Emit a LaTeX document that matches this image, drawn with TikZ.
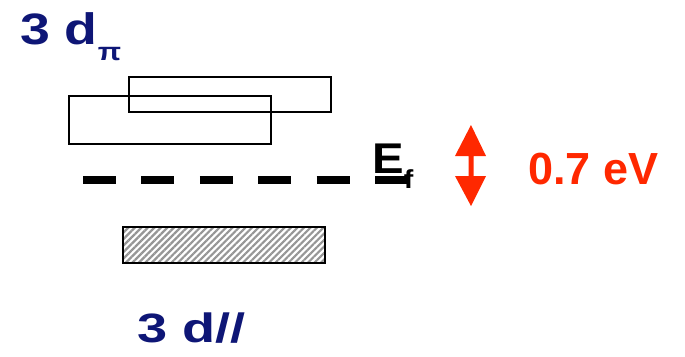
\documentclass[tikz,border=0pt]{standalone}
\usepackage{fontspec}
\setmainfont{Liberation Sans}
\usetikzlibrary{patterns.meta}
\definecolor{bandblue}{RGB}{14,22,118}
\definecolor{gapred}{RGB}{255,40,0}
\definecolor{hatchgray}{RGB}{150,150,150}
\tikzset{
  levelbox/.style={draw=black, line width=2pt},
  filledband/.style={draw=black, line width=2.4pt,
    pattern={Lines[angle=45,distance=4.6pt,line width=2.2pt]}, pattern color=hatchgray},
  fermiline/.style={line width=8pt, dash pattern=on 33pt off 25.4pt},
  bandlabel/.style={inner sep=0pt, anchor=base west, text=bandblue, font=\bfseries},
  gaplabel/.style={inner sep=0pt, anchor=base west, text=gapred, font=\bfseries},
  fermilabel/.style={inner sep=0pt, anchor=base west, text=black, font=\bfseries}
}
\begin{document}
\begin{tikzpicture}[x=1pt,y=-1pt]
\useasboundingbox (0,0) rectangle (685,356);

% upper band: two overlapping empty boxes
\draw[levelbox] (69,96) rectangle (271,144);
\draw[levelbox] (129,77) rectangle (331,112);

% lower, occupied band
\draw[filledband] (123,227) rectangle (325,263);

% Fermi level
\coordinate (efL) at (83,180);
\coordinate (efR) at (408,180);
\draw[fermiline] (efL) -- (efR);

% labels
\node[bandlabel] (dpi) at (20,44)
  {\scalebox{1.22}[1]{\fontsize{44}{44}\selectfont 3 d\raisebox{-16pt}{\fontsize{25}{25}\selectfont π}}};
\node[bandlabel] (dpar) at (137,342)
  {\scalebox{1.32}[1]{\fontsize{41}{41}\selectfont 3 d//}};
\node[fermilabel] (ef) at (372,173)
  {\scalebox{1.1}[1]{\fontsize{43}{43}\selectfont E\raisebox{-15pt}{\fontsize{26}{26}\selectfont f}}};
\node[gaplabel] (gap) at (528,184) {\fontsize{45}{45}\selectfont 0.7 eV};

% double-headed gap arrow
\fill[gapred] (471,125) -- (486,156) -- (473.5,156) -- (473.5,176) -- (486,176)
  -- (471,206) -- (455,176) -- (468.5,176) -- (468.5,156) -- (455,156) -- cycle;
\end{tikzpicture}
\end{document}
